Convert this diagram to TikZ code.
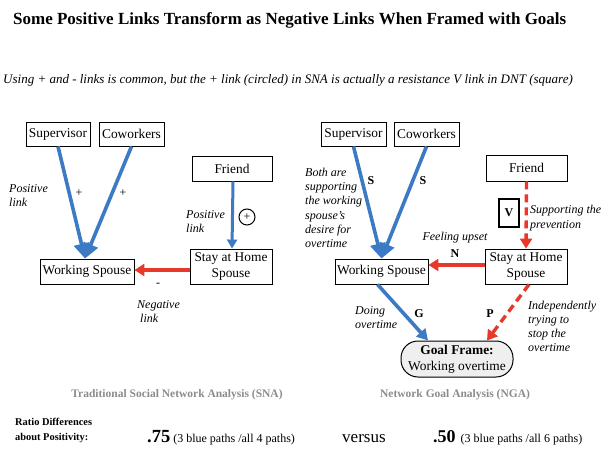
\documentclass[tikz,border=0pt]{standalone}
\usepackage{fontspec}
\setmainfont{Liberation Serif}
\usetikzlibrary{arrows.meta,calc}
\definecolor{blu}{HTML}{3C7AC4}
\definecolor{rd}{HTML}{E8382A}
\definecolor{capgray}{HTML}{8C8C8C}
\definecolor{goalfill}{HTML}{EFEFEF}
\tikzset{
  box/.style={draw, line width=0.9pt, inner sep=0pt, font=\fontsize{13.4}{16}\selectfont, align=center},
  lbl/.style={font=\fontsize{12}{14}\selectfont\itshape, align=left, inner sep=0pt},
  sym/.style={font=\fontsize{12}{14}\selectfont, inner sep=0pt},
  bsym/.style={font=\fontsize{12}{14}\selectfont\bfseries, inner sep=0pt},
  bigblue/.style={draw=blu, line width=3.6pt, -{Triangle[width=15pt,length=15pt]}},
  smallblue/.style={draw=blu, line width=3pt, -{Triangle[width=10pt,length=9pt]}},
  redarrow/.style={draw=rd, line width=3.6pt, -{Triangle[width=12pt,length=10pt]}},
  reddash/.style={draw=rd, line width=3.4pt, dash pattern=on 8pt off 5pt, -{Triangle[width=12pt,length=10pt]}},
  caption/.style={font=\fontsize{11.5}{14}\selectfont\bfseries, text=capgray, inner sep=0pt},
}
\begin{document}
\begin{tikzpicture}[x=1pt,y=-1pt]
\useasboundingbox (0,0) rectangle (608,449);
\fill[white] (0,0) rectangle (608,449);

% title and subtitle
\node[inner sep=0pt, font=\fontsize{17}{20}\selectfont\bfseries, anchor=west] (title) at (13,20) {Some Positive Links Transform as Negative Links When Framed with Goals};
\node[inner sep=0pt, font=\fontsize{13}{16}\selectfont\itshape, anchor=west] (subtitle) at (3,80) {Using + and - links is common, but the + link (circled) in SNA is actually a resistance V link in DNT (square)};

% ---------- left: SNA ----------
\node[box, minimum width=64pt, minimum height=24pt] (sup1) at (58,134) {Supervisor};
\node[box, minimum width=65pt, minimum height=24pt] (cow1) at (131.5,134) {Coworkers};
\node[box, minimum width=80pt, minimum height=25pt] (fr1) at (232,168.5) {Friend};
\node[box, minimum width=82pt, minimum height=35pt] (stay1) at (231,266.5) {Stay at Home\\Spouse};
\node[box, minimum width=94pt, minimum height=25pt] (ws1) at (87,271.5) {Working Spouse};

\draw[bigblue] (sup1.south) -- ([xshift=-2pt]ws1.north);
\draw[bigblue] (cow1.south) -- ([xshift=-2pt]ws1.north);
\draw[smallblue] ([xshift=1pt]fr1.south) -- ([xshift=1pt]stay1.north);
\draw[redarrow] (stay1.west |- 0,270) -- (ws1.east |- 0,270);

\node[lbl, anchor=west] (pl1) at (9,195.5) {Positive\\link};
\node[sym] (plus1) at (79,193) {+};
\node[sym] (plus2) at (123,193) {+};
\node[lbl, anchor=west] (pl2) at (186,221.5) {Positive\\link};
\node[sym, draw, circle, line width=1pt, minimum size=16pt] (plusc) at (247,217) {+};
\node[sym] (minus1) at (158,285) {-};
\node[lbl, anchor=west] (nl) at (137,312) {Negative\\\hspace*{3pt}link};

\node[caption] (cap1) at (177,395) {Traditional Social Network Analysis (SNA)};

% ---------- right: NGA ----------
\node[box, minimum width=65pt, minimum height=24pt] (sup2) at (353.5,134) {Supervisor};
\node[box, minimum width=65pt, minimum height=24pt] (cow2) at (426.5,134) {Coworkers};
\node[box, minimum width=81pt, minimum height=26pt] (fr2) at (526.5,168) {Friend};
\node[box, minimum width=82pt, minimum height=35pt] (stay2) at (526,266.5) {Stay at Home\\Spouse};
\node[box, minimum width=93pt, minimum height=25pt] (ws2) at (381.5,271.5) {Working Spouse};
\node[box, fill=goalfill, rounded corners=17pt, line width=1pt, minimum width=112pt, minimum height=36pt] (goal) at (457,359) {\textbf{Goal Frame:}\\Working overtime};
\node[bsym, draw, line width=1.5pt, minimum width=20pt, minimum height=28pt] (vbox) at (509,213) {V};

\draw[bigblue] (sup2.south) -- (ws2.north);
\draw[bigblue] (cow2.south) -- (ws2.north);
\draw[reddash] (fr2.south) -- (stay2.north);
\draw[redarrow] (stay2.west |- 0,265) -- (ws2.east |- 0,265);
\draw[draw=blu, line width=3.6pt, -{Triangle[width=12pt,length=11pt]}] ([xshift=-4pt]ws2.south) -- ([xshift=-29pt]goal.north);
\draw[reddash] ([xshift=3pt]stay2.south) -- ([xshift=30pt]goal.north);

\node[lbl, anchor=west, font=\fontsize{12}{14.3}\selectfont\itshape] (both) at (305,208) {Both are\\supporting\\the working\\spouse's\\desire for\\overtime};
\node[bsym] (s1) at (371,181) {S};
\node[bsym] (s2) at (423,181) {S};
\node[lbl] (fu) at (455,238) {Feeling upset};
\node[bsym] (n) at (455,254) {N};
\node[lbl, anchor=west, font=\fontsize{12}{15.5}\selectfont\itshape] (sp) at (530,218) {Supporting the\\prevention};
\node[lbl, anchor=west] (doing) at (355,317.5) {Doing\\overtime};
\node[bsym] (g) at (419,314) {G};
\node[bsym] (p) at (490,314) {P};
\node[lbl, anchor=west] (indep) at (528,326) {Independently\\trying to\\stop the\\overtime};

\node[caption] (cap2) at (455,395) {Network Goal Analysis (NGA)};

% ---------- bottom ratio line ----------
\node[inner sep=0pt, font=\fontsize{10.4}{15}\selectfont\bfseries, align=left, anchor=west] (ratio) at (15,430.5) {Ratio Differences\\about Positivity:};
\node[inner sep=0pt, anchor=base west] (r1) at (147,442) {{\fontsize{18.5}{20}\selectfont\bfseries .75}\hspace{3pt}{\fontsize{12}{14}\selectfont (3 blue paths /all 4 paths)}};
\node[inner sep=0pt, anchor=base west, font=\fontsize{17}{20}\selectfont] (vs) at (342,442) {versus};
\node[inner sep=0pt, anchor=base west] (r2) at (433,442) {{\fontsize{18}{20}\selectfont\bfseries .50}\hspace{5pt}{\fontsize{12}{14}\selectfont (3 blue paths /all 6 paths)}};
\end{tikzpicture}
\end{document}
